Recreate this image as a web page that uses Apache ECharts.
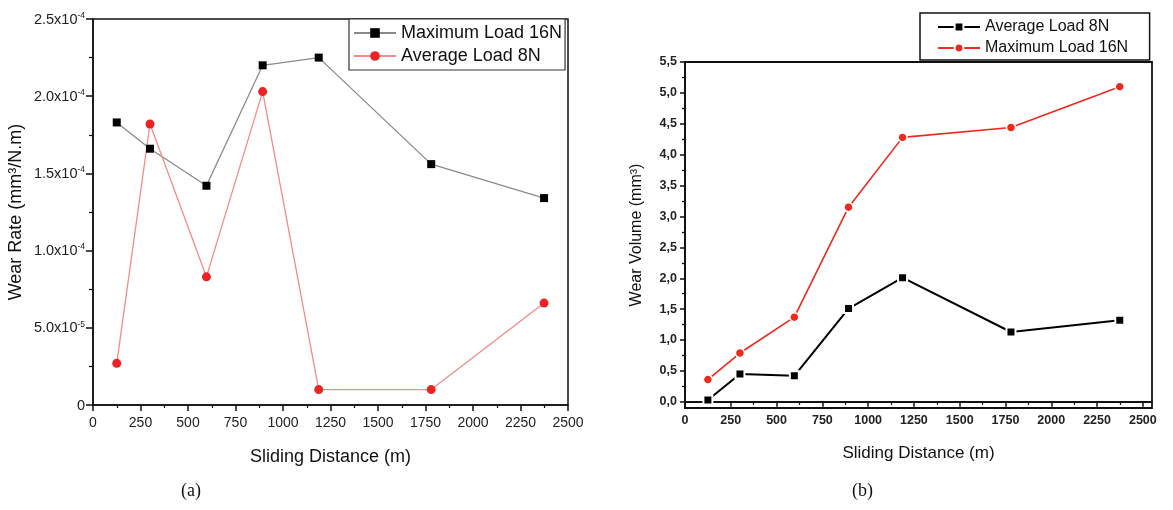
<!DOCTYPE html>
<html>
<head>
<meta charset="utf-8">
<script src="https://cdn.jsdelivr.net/npm/echarts@6/dist/echarts.min.js"></script>
<style>
html,body{margin:0;padding:0;background:#fff;}
#main{width:1173px;height:510px;}
</style>
</head>
<body>
<div id="main"></div>
<script>
// ---- data ----
const slidingDistance = [125, 300, 597, 893, 1188, 1780, 2374];
const wearRateMax16 = [1.83e-4, 1.66e-4, 1.42e-4, 2.20e-4, 2.25e-4, 1.56e-4, 1.34e-4];
const wearRateAvg8  = [0.27e-4, 1.82e-4, 0.83e-4, 2.03e-4, 0.10e-4, 0.10e-4, 0.66e-4];
const volumeAvg8  = [0.03, 0.45, 0.42, 1.51, 2.01, 1.13, 1.32];
const volumeMax16 = [0.36, 0.79, 1.37, 3.15, 4.28, 4.44, 5.10];

const rateTickLabels = ['0', '5.0x10|-5', '1.0x10|-4', '1.5x10|-4', '2.0x10|-4', '2.5x10|-4'];
const distTicks = [0, 250, 500, 750, 1000, 1250, 1500, 1750, 2000, 2250, 2500];
const distMinorTicks = [125, 375, 625, 875, 1125, 1375, 1625, 1875, 2125, 2375];
const volTicks = [0, 0.5, 1, 1.5, 2, 2.5, 3, 3.5, 4, 4.5, 5, 5.5];
const volMinorTicks = [0.25, 0.75, 1.25, 1.75, 2.25, 2.75, 3.25, 3.75, 4.25, 4.75, 5.25];

const FONT = 'Liberation Sans, Arial, sans-serif';
const pair = arr => slidingDistance.map((d, i) => [d, arr[i]]);
const plain = v => String(Math.round(v));

const chart = echarts.init(document.getElementById('main'), null, {renderer: 'canvas'});

const option = {
  animation: false,
  backgroundColor: '#fff',
  textStyle: {fontFamily: FONT},
  grid: [
    {left: 93, right: 605, top: 19, bottom: 105, show: true, borderColor: '#111', borderWidth: 1.5, backgroundColor: 'transparent'},
    {left: 685, right: 21, top: 62, bottom: 102, show: true, borderColor: '#111', borderWidth: 1.8, backgroundColor: 'transparent'}
  ],
  legend: [
    {
      data: ['Maximum Load 16N', 'Average Load 8N'],
      left: 349, top: 19, orient: 'vertical',
      padding: [5, 3, 5, 4],
      itemWidth: 42, itemHeight: 12, itemGap: 5,
      borderColor: '#333', borderWidth: 1.2, backgroundColor: '#fff',
      textStyle: {fontSize: 18, lineHeight: 18, color: '#111', fontFamily: FONT}
    },
    {
      data: ['Average Load 8N ', 'Maximum Load 16N '],
      left: 920, top: 13, orient: 'vertical',
      padding: [6, 17, 4, 17],
      itemWidth: 42, itemHeight: 11, itemGap: 5,
      borderColor: '#111', borderWidth: 1.5, backgroundColor: '#fff',
      textStyle: {fontSize: 16, lineHeight: 16, color: '#111', fontFamily: FONT}
    }
  ],
  xAxis: [
    {
      gridIndex: 0, type: 'value', position: 'bottom', min: 0, max: 2500, interval: 250,
      name: 'Sliding Distance (m)', nameLocation: 'middle', nameGap: 43,
      nameTextStyle: {fontSize: 18, color: '#111', fontFamily: FONT},
      axisLine: {lineStyle: {color: '#111', width: 1.5}},
      axisTick: {show: true, inside: false, length: 6, lineStyle: {color: '#111', width: 1.5}},
      minorTick: {show: true, splitNumber: 2, length: 3, lineStyle: {color: '#111', width: 1.2}},
      axisLabel: {fontSize: 14, color: '#222', margin: 11, fontFamily: FONT, formatter: plain},
      splitLine: {show: false}
    },
    {
      gridIndex: 1, type: 'value', position: 'bottom', min: 0, max: 2550,
      name: 'Sliding Distance (m)', nameLocation: 'middle', nameGap: 37,
      nameTextStyle: {fontSize: 17, color: '#111', fontFamily: FONT},
      axisLine: {lineStyle: {color: '#111', width: 1.8}},
      axisTick: {show: true, inside: false, length: 5, customValues: distTicks, lineStyle: {color: '#111', width: 1.5}},
      axisLabel: {fontSize: 12.5, fontWeight: 'bold', color: '#222', margin: 6, customValues: distTicks, fontFamily: FONT, formatter: plain},
      splitLine: {show: false}
    },
    {
      gridIndex: 1, type: 'value', position: 'bottom', min: 0, max: 2550,
      axisLine: {show: false},
      axisTick: {show: true, inside: false, length: 3, customValues: distMinorTicks, lineStyle: {color: '#111', width: 1.3}},
      axisLabel: {show: false},
      splitLine: {show: false}
    }
  ],
  yAxis: [
    {
      gridIndex: 0, type: 'value', position: 'left', min: 0, max: 2.5e-4, interval: 0.5e-4,
      name: 'Wear Rate (mm³/N.m)', nameLocation: 'middle', nameGap: 68,
      nameTextStyle: {fontSize: 18, color: '#111', fontFamily: FONT},
      axisLine: {show: true, lineStyle: {color: '#111', width: 1.5}},
      axisTick: {show: true, inside: false, length: 7, lineStyle: {color: '#111', width: 1.5}},
      minorTick: {show: true, splitNumber: 2, length: 4, lineStyle: {color: '#111', width: 1.2}},
      axisLabel: {
        margin: 8, color: '#222', fontFamily: FONT,
        formatter: function (v) {
          const s = rateTickLabels[Math.round(v / 0.5e-4)] || '';
          const p = s.split('|');
          return p.length > 1 ? '{m|' + p[0] + '}{s|' + p[1] + '}' : '{m|' + p[0] + '}';
        },
        rich: {
          m: {fontSize: 14.5, lineHeight: 16, color: '#222', fontFamily: FONT, verticalAlign: 'bottom'},
          s: {fontSize: 8.5, lineHeight: 10, color: '#222', fontFamily: FONT, verticalAlign: 'top'}
        }
      },
      splitLine: {show: false}
    },
    {
      gridIndex: 1, type: 'value', position: 'left', min: -0.1, max: 5.5,
      name: 'Wear Volume (mm³)', nameLocation: 'middle', nameGap: 40,
      nameTextStyle: {fontSize: 16, color: '#111', fontFamily: FONT},
      axisLine: {show: true, lineStyle: {color: '#111', width: 1.8}},
      axisTick: {show: true, inside: false, length: 5, customValues: volTicks, lineStyle: {color: '#111', width: 1.5}},
      axisLabel: {
        fontSize: 12.5, fontWeight: 'bold', color: '#222', margin: 8, customValues: volTicks, fontFamily: FONT,
        formatter: v => v.toFixed(1).replace('.', ',')
      },
      splitLine: {show: false}
    },
    {
      gridIndex: 1, type: 'value', position: 'left', min: -0.1, max: 5.5,
      axisLine: {show: false},
      axisTick: {show: true, inside: false, length: 3, customValues: volMinorTicks, lineStyle: {color: '#111', width: 1.3}},
      axisLabel: {show: false},
      splitLine: {show: false}
    }
  ],
  series: [
    {
      name: 'Maximum Load 16N', type: 'line', xAxisIndex: 0, yAxisIndex: 0,
      data: pair(wearRateMax16),
      symbol: 'rect', symbolSize: 8,
      lineStyle: {color: '#8a8a8a', width: 1.3},
      itemStyle: {color: '#000'}
    },
    {
      name: 'Average Load 8N', type: 'line', xAxisIndex: 0, yAxisIndex: 0,
      data: pair(wearRateAvg8),
      symbol: 'circle', symbolSize: 9,
      lineStyle: {color: '#f28b8b', width: 1.3},
      itemStyle: {color: '#ee2222'}
    },
    {
      name: 'Average Load 8N ', type: 'line', xAxisIndex: 1, yAxisIndex: 1,
      data: pair(volumeAvg8),
      symbol: 'rect', symbolSize: 9,
      lineStyle: {color: '#000', width: 2},
      itemStyle: {color: '#000', borderColor: '#fff', borderWidth: 2}
    },
    {
      name: 'Maximum Load 16N ', type: 'line', xAxisIndex: 1, yAxisIndex: 1,
      data: pair(volumeMax16),
      symbol: 'circle', symbolSize: 9,
      lineStyle: {color: '#ee2a1e', width: 1.6},
      itemStyle: {color: '#ee2a1e', borderColor: '#fff', borderWidth: 1.5}
    }
  ],
  graphic: [
    {type: 'text', left: 181, top: 482, style: {text: '(a)', font: '18px "Liberation Serif", "Times New Roman", serif', fill: '#111'}},
    {type: 'text', left: 852, top: 482, style: {text: '(b)', font: '18px "Liberation Serif", "Times New Roman", serif', fill: '#111'}}
  ]
};
chart.setOption(option);
</script>
</body>
</html>
